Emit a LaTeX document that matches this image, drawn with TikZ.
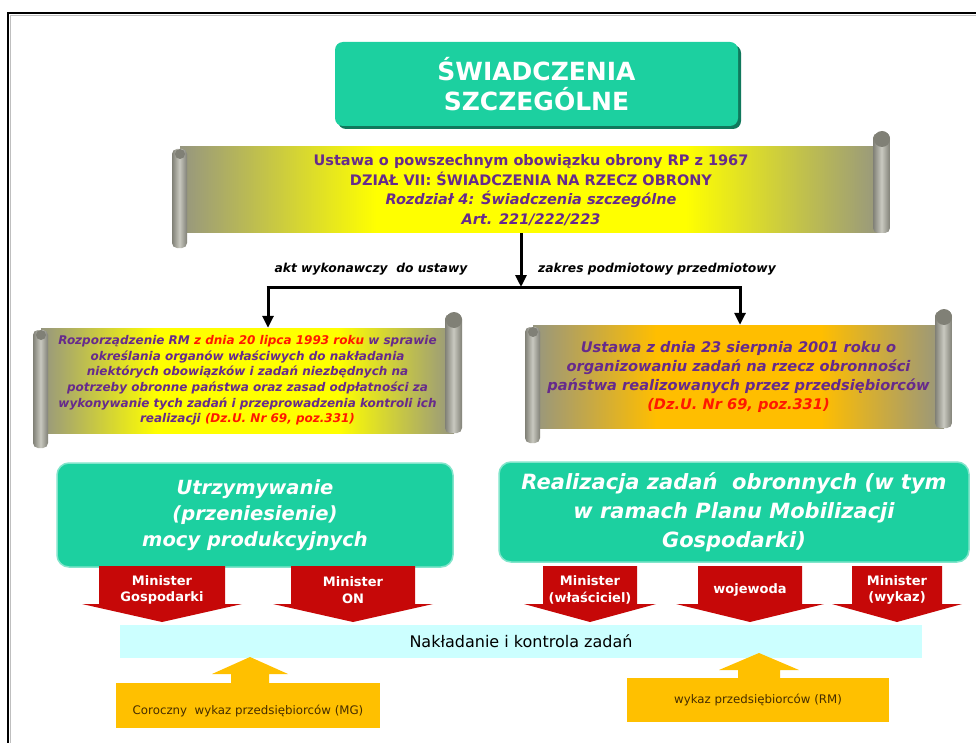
\documentclass[tikz,border=0pt]{standalone}
\usepackage{fontspec}
\setmainfont{DejaVu Sans}
\usetikzlibrary{arrows.meta}
\definecolor{teal1}{RGB}{28,208,160}
\definecolor{tealdark}{RGB}{16,120,92}
\definecolor{purp}{RGB}{102,42,140}
\definecolor{redt}{RGB}{255,24,0}
\definecolor{sgray}{RGB}{150,150,128}
\definecolor{yel}{RGB}{255,255,0}
\definecolor{gold}{RGB}{255,190,0}
\definecolor{rollg}{RGB}{165,165,150}
\definecolor{curlg}{RGB}{128,128,118}
\definecolor{arrred}{RGB}{198,8,8}
\definecolor{cyanbar}{RGB}{204,255,255}
\definecolor{orangebox}{RGB}{255,192,0}
\definecolor{obrown}{RGB}{70,45,0}
\pgfdeclarehorizontalshading{scrollyel}{100bp}{color(0bp)=(sgray); color(25bp)=(sgray); color(39bp)=(yel); color(61bp)=(yel); color(75bp)=(sgray); color(100bp)=(sgray)}
\pgfdeclarehorizontalshading{scrollgold}{100bp}{color(0bp)=(sgray); color(25bp)=(sgray); color(40bp)=(gold); color(60bp)=(gold); color(75bp)=(sgray); color(100bp)=(sgray)}
\pgfdeclarehorizontalshading{rollshade}{100bp}{color(0bp)=(curlg); color(25bp)=(curlg); color(50bp)=(rollg!60!white); color(75bp)=(curlg); color(100bp)=(curlg)}
\newcommand\myrolls[4]{% x0 y0 x1 y1
  \shade[shading=rollshade, rounded corners=5] (#1,#2+2) rectangle (#1+15,#4+15);
  \shade[shading=rollshade, rounded corners=5] (#3-17,#2-14) rectangle (#3,#4);
  \fill[curlg] (#1+8,#2+7) circle (5);
  \fill[curlg] (#3-8,#2-8) circle (8);
}
\newcommand\redarr[5]{% cx halfshaft halfwing name text
  \fill[arrred] (#1-#2,566) -- (#1+#2,566) -- (#1+#2,604) -- (#1+#3,604) -- (#1,622) -- (#1-#3,604) -- (#1-#2,604) -- cycle;
  \node[redtxt] (#4) at (#1,590) {#5};
}
\newcommand\orarr[6]{% cx tipy wingy bottomy halfshaft halfwing
  \fill[orangebox] (#1-#5,#4) -- (#1-#5,#3) -- (#1-#6,#3) -- (#1,#2) -- (#1+#6,#3) -- (#1+#5,#3) -- (#1+#5,#4) -- cycle;
}
\tikzset{
  scrollbody/.style={inner sep=0, align=center, text=purp},
  greenbox/.style={fill=teal1, draw=teal1!55!white, line width=1.5, rounded corners=12, inner sep=0, align=center, text=white, font=\bfseries\itshape},
  redtxt/.style={align=center, text=white, font=\fontsize{13}{16.5}\selectfont\bfseries, inner sep=0},
  arr/.style={line width=3, -{Triangle[length=12,width=11]}},
  lab/.style={font=\fontsize{12.3}{14}\selectfont\bfseries\itshape, inner sep=0},
  orbox/.style={fill=orangebox, inner sep=0},
  ortxt/.style={text=obrown, font=\fontsize{11.8}{14}\selectfont, inner sep=0}
}
\begin{document}
\begin{tikzpicture}[x=1pt,y=-1pt]
\useasboundingbox (0,0) rectangle (976,743);
\fill[white] (0,0) rectangle (976,743);
% frame
\draw[gray!50, line width=1.5] (10.5,743) -- (10.5,15.5) -- (976,15.5);
\draw[black, line width=2] (8,743) -- (8,13) -- (976,13);
% title
\fill[tealdark, rounded corners=8] (338,45) rectangle (741,129);
\node[fill=teal1, rounded corners=8, minimum width=403, minimum height=84, inner sep=0, align=center, text=white, font=\fontsize{25}{30}\selectfont\bfseries] (title) at (536.5,84) {ŚWIADCZENIA\\SZCZEGÓLNE};
% top scroll
\node[scrollbody, shading=scrollyel, shade, minimum width=702, minimum height=86, font=\fontsize{14.5}{19.5}\selectfont\bfseries] (s1) at (531,190)
 {Ustawa o powszechnym obowiązku obrony RP z 1967\\DZIAŁ VII: ŚWIADCZENIA NA RZECZ OBRONY\\\textit{Rozdział 4: Świadczenia szczególne}\\\textit{Art. 221/222/223}};
\myrolls{172}{147}{890}{233}
% left scroll
\node[scrollbody, shading=scrollyel, shade, minimum width=413, minimum height=105, font=\fontsize{12}{15.6}\selectfont\bfseries\itshape] (s2) at (247.5,380.5)
 {Rozporządzenie RM \textcolor{redt}{z dnia 20 lipca 1993 roku} w sprawie\\określania organów właściwych do nakładania\\niektórych obowiązków i zadań niezbędnych na\\potrzeby obronne państwa oraz zasad odpłatności za\\wykonywanie tych zadań i przeprowadzenia kontroli ich\\realizacji \textcolor{redt}{(Dz.U. Nr 69, poz.331)}};
\myrolls{33}{328}{462}{433}
% right scroll
\node[scrollbody, shading=scrollgold, shade, minimum width=411, minimum height=103, font=\fontsize{14.6}{19}\selectfont\bfseries\itshape] (s3) at (738.5,376.5)
 {Ustawa z dnia 23 sierpnia 2001 roku o\\organizowaniu zadań na rzecz obronności\\państwa realizowanych przez przedsiębiorców\\\textcolor{redt}{(Dz.U. Nr 69, poz.331)}};
\myrolls{525}{325}{952}{428}
% connectors
\coordinate (j) at (521,287);
\coordinate (jl) at (268,287);
\coordinate (jr) at (740,287);
\draw[arr] (j |- s1.south) -- (j);
\draw[line width=3] ([xshift=-1.5]jl) -- ([xshift=1.5]jr);
\draw[arr] (jl) -- (jl |- s2.north);
\draw[arr] (jr) -- (jr |- s3.north);
\node[lab] (l1) at (371,269) {akt wykonawczy\ \ do ustawy};
\node[lab] (l2) at (657,269) {zakres podmiotowy przedmiotowy};
% green boxes
\node[greenbox, minimum width=396, minimum height=104, font=\fontsize{19.5}{26}\selectfont\bfseries\itshape] (g1) at (255,515) {Utrzymywanie\\(przeniesienie)\\mocy produkcyjnych};
\node[greenbox, minimum width=470, minimum height=100, font=\fontsize{21}{29}\selectfont\bfseries\itshape] (g2) at (734,512) {Realizacja zadań\ \ obronnych (w tym\\w ramach Planu Mobilizacji\\Gospodarki)};
% cyan bar
\node[fill=cyanbar, minimum width=802, minimum height=33, inner sep=0, font=\fontsize{16}{20}\selectfont] (bar) at (521,641.5) {Nakładanie i kontrola zadań};
% red arrows
\redarr{162}{63}{80}{r1}{Minister\\Gospodarki}
\redarr{353}{62}{80}{r2}{Minister\\ON}
\redarr{590}{47}{66}{r3}{Minister\\(właściciel)}
\redarr{750}{52}{74}{r4}{wojewoda}
\redarr{897}{45}{65}{r5}{Minister\\(wykaz)}
% orange
\orarr{250}{657}{674}{684}{19}{38}
\orarr{759}{653}{670}{679}{21}{40}
\node[orbox, minimum width=264, minimum height=45] (o1) at (248,705.5) {};
\node[ortxt] (o1t) at (248,711) {Coroczny\ \ wykaz przedsiębiorców (MG)};
\node[orbox, minimum width=262, minimum height=44, ortxt] (o2) at (758,700) {wykaz przedsiębiorców (RM)};
\end{tikzpicture}
\end{document}
